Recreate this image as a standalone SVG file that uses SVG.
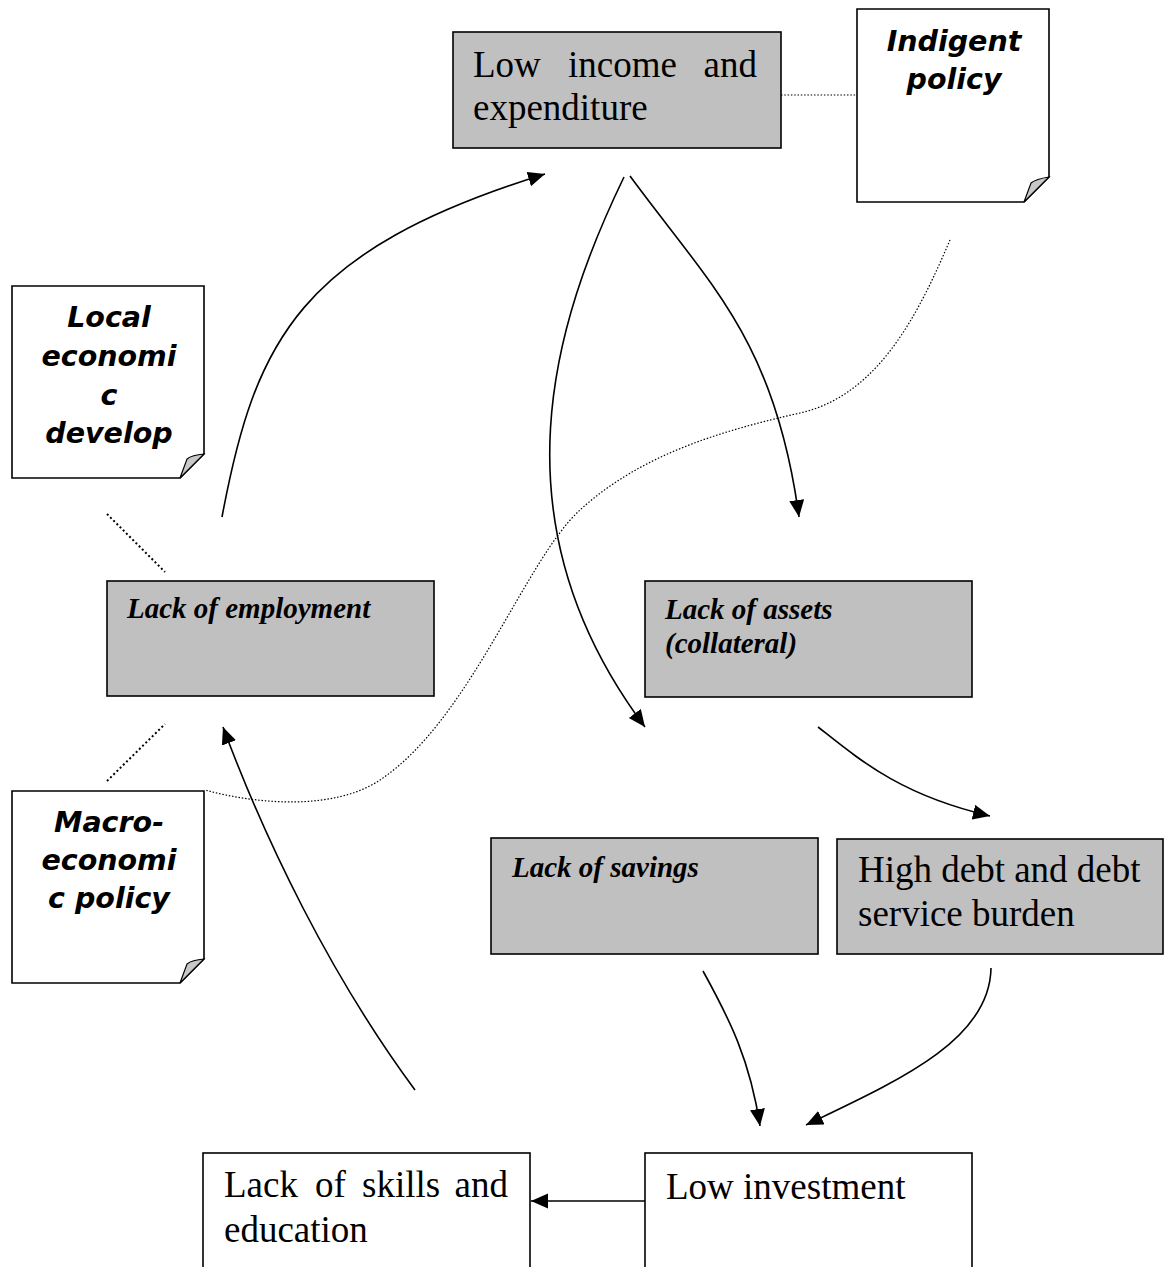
<svg xmlns="http://www.w3.org/2000/svg" width="1164" height="1267" viewBox="0 0 1164 1267">
<defs>
<marker id="ah" markerUnits="userSpaceOnUse" markerWidth="18" markerHeight="16" refX="17" refY="7.5" orient="auto">
<path d="M0,0 L17,7.5 L0,15 Z" fill="#000"/>
</marker>
</defs>
<style>
.box{fill:#c0c0c0;stroke:#000;stroke-width:1.6}
.wbox{fill:#fff;stroke:#000;stroke-width:1.6}
.note{fill:#fff;stroke:#000;stroke-width:1.6;stroke-linejoin:miter}
.curl{fill:#c8c8c8;stroke:#000;stroke-width:1.2}
.t{font-family:"Liberation Serif","Times New Roman",serif;font-size:37px;fill:#000}
.ti{font-family:"Liberation Serif","Times New Roman",serif;font-size:29px;font-style:italic;font-weight:bold;fill:#000}
.nt{font-family:"DejaVu Sans",Verdana,sans-serif;font-size:28.5px;font-style:italic;font-weight:bold;fill:#000;text-anchor:middle}
.arr{fill:none;stroke:#000;stroke-width:1.6;marker-end:url(#ah)}
.ln{fill:none;stroke:#000;stroke-width:1.6}
.dot{fill:none;stroke:#000;stroke-width:1.2;stroke-dasharray:1.5 1.8}
.dot2{fill:none;stroke:#000;stroke-width:2;stroke-dasharray:2 2.5}
</style>

<g id="connectors">
<path class="dot" d="M781,95 L857,95"/>
<path class="dot2" d="M107,514 L165,572"/>
<path class="dot2" d="M107,781 L165,724"/>
<path class="dot" d="M950,240 C920,310 880,395 800,413 C720,431 640,455 580,510 C525,560 470,720 380,780 C335,810 260,805 205,790"/>
<path class="arr" d="M222,517 C255,340 300,250 545,174"/>
<path class="arr" d="M630,176 C710,285 775,340 799,517"/>
<path class="arr" d="M624,177 C555,320 490,520 645,727"/>
<path class="arr" d="M818,727 C860,760 900,795 990,816"/>
<path class="arr" d="M703,971 C730,1020 750,1060 760,1126"/>
<path class="arr" d="M991,968 C990,1040 900,1080 806,1125"/>
<path class="arr" d="M415,1090 C330,975 265,840 223,727"/>
<path class="arr" d="M645,1201 L531,1201"/>
</g>

<g id="low-income">
<rect class="box" x="453" y="32" width="328" height="116"/>
<text class="t" x="473" y="77">Low</text>
<text class="t" x="568" y="77">income</text>
<text class="t" x="757" y="77" text-anchor="end">and</text>
<text class="t" x="473" y="120">expenditure</text>
</g>

<g id="indigent-policy">
<path class="note" d="M857,9 H1049 V177 L1024,202 H857 Z"/>
<path class="curl" d="M1024,202 L1031,183 Q1036,179 1049,177 Z"/>
<text class="nt" x="954" y="51">Indigent</text>
<text class="nt" x="954" y="89">policy</text>
</g>

<g id="local-economic">
<path class="note" d="M12,286 H204 V454 L180,478 H12 Z"/>
<path class="curl" d="M180,478 L187,459 Q192,455 204,454 Z"/>
<text class="nt" x="109" y="327">Local</text>
<text class="nt" x="109" y="366">economi</text>
<text class="nt" x="109" y="405">c</text>
<text class="nt" x="109" y="443">develop</text>
</g>

<g id="macro-economic">
<path class="note" d="M12,791 H204 V959 L180,983 H12 Z"/>
<path class="curl" d="M180,983 L187,964 Q192,960 204,959 Z"/>
<text class="nt" x="109" y="832">Macro-</text>
<text class="nt" x="109" y="870">economi</text>
<text class="nt" x="109" y="908">c policy</text>
</g>

<g id="lack-employment">
<rect class="box" x="107" y="581" width="327" height="115"/>
<text class="ti" x="127" y="618">Lack of employment</text>
</g>

<g id="lack-assets">
<rect class="box" x="645" y="581" width="327" height="116"/>
<text class="ti" x="665" y="619">Lack of assets</text>
<text class="ti" x="665" y="653">(collateral)</text>
</g>

<g id="lack-savings">
<rect class="box" x="491" y="838" width="327" height="116"/>
<text class="ti" x="512" y="877">Lack of savings</text>
</g>

<g id="high-debt">
<rect class="box" x="837" y="839" width="326" height="115"/>
<text class="t" x="858" y="882">High debt and debt</text>
<text class="t" x="858" y="926">service burden</text>
</g>

<g id="lack-skills">
<rect class="wbox" x="203" y="1153" width="327" height="130"/>
<text class="t" x="224" y="1197">Lack</text>
<text class="t" x="315" y="1197">of</text>
<text class="t" x="362" y="1197">skills</text>
<text class="t" x="508" y="1197" text-anchor="end">and</text>
<text class="t" x="224" y="1242">education</text>
</g>

<g id="low-investment">
<rect class="wbox" x="645" y="1153" width="327" height="130"/>
<text class="t" x="666" y="1199">Low investment</text>
</g>
</svg>
